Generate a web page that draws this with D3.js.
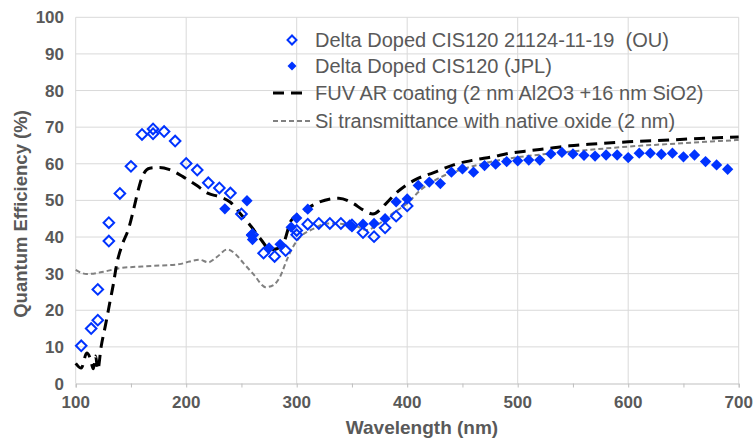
<!DOCTYPE html>
<html>
<head>
<meta charset="utf-8">
<script src="https://cdn.jsdelivr.net/npm/d3@7"></script>
<style>
  body { margin: 0; background: #fff; }
  svg text { font-family: "Liberation Sans", Arial, sans-serif; fill: #595959; white-space: pre; }
</style>
</head>
<body>
<svg id="chart" width="755" height="443"></svg>
<script>
// ── Data ──────────────────────────────────────────────────────────────────
const ouData = [
  [105, 10.3], [114, 15], [120, 17.3], [120, 25.7], [130, 38.9], [130, 43.9],
  [140, 51.9], [150, 59.3], [160, 68], [170, 68.2], [170, 69.5], [180, 68.8],
  [190, 66.2], [200, 60.1], [210, 58.3], [220, 54.8], [230, 53.4], [240, 52],
  [250, 46.3], [260, 40.6], [270, 35.6], [280, 34.7], [290, 36.3], [300, 40.6],
  [300, 41.8], [310, 43.5], [320, 43.7], [330, 43.7], [340, 43.7], [350, 43.3],
  [360, 41.2], [370, 40.1], [380, 42.5], [390, 45.7], [400, 48.5]
];

const jplData = [
  [235, 47.7], [255, 49.9], [259, 40.5], [260, 39.3], [275, 37], [285, 38],
  [295, 42.7], [300, 45.2], [310, 47.6], [348, 43.3], [350, 42.8], [360, 43.5],
  [370, 43.7], [380, 45], [390, 49.6], [400, 50.4], [410, 54.1], [420, 55],
  [430, 54.6], [440, 57.7], [450, 58.6], [460, 57.7], [470, 59.5], [480, 59.9],
  [490, 60.6], [500, 60.8], [510, 61], [520, 61], [530, 62.7], [540, 63.1],
  [550, 62.7], [560, 62.3], [570, 62.1], [580, 62.4], [590, 62.4], [600, 61.7],
  [610, 62.9], [620, 62.9], [630, 62.6], [640, 62.9], [650, 61.9], [660, 62.4],
  [670, 60.6], [680, 59.7], [690, 58.5]
];

const fuvData = [
  [100, 5.5], [105, 4.2], [110, 8.3], [113, 7], [116, 4], [118, 7.5], [120, 3.8],
  [123, 10], [127, 16], [131, 22.3], [134, 27], [137, 32.4], [142, 37.8],
  [148, 42.4], [153, 48.3], [157, 53.3], [161, 57], [167, 58.8], [176, 59],
  [185, 58.4], [197, 56.5], [209, 54.2], [220, 51.9], [230, 51], [240, 49.5],
  [250, 46], [259, 42.8], [268, 39.2], [276, 36.5], [282, 36.8], [288, 38.3],
  [295, 44.5], [306, 47], [320, 49.5], [338, 50.6], [351, 49.2], [360, 47.4],
  [369, 46.3], [381, 49.2], [390, 52], [407, 55.6], [424, 57.6], [442, 59.7],
  [460, 61], [477, 61.9], [493, 62.9], [511, 63.6], [529, 64.2], [547, 64.9],
  [564, 65.3], [600, 66], [637, 66.5], [670, 67], [700, 67.3]
];

const siData = [
  [100, 31], [110, 29.9], [125, 30.5], [140, 31.5], [170, 32.1], [194, 32.6],
  [203, 33.3], [212, 33.8], [220, 33.1], [228, 34.6], [237, 36.6], [244, 35.5],
  [252, 32.8], [261, 29.8], [272, 26.3], [279, 26.9], [285, 29.2], [291, 33.7],
  [297, 37.5], [305, 40.5], [315, 42.2], [327, 43.7], [351, 43.3], [363, 41.9],
  [375, 43.7], [387, 46.5], [400, 49.2], [412, 52.8], [430, 56.3], [450, 58.5],
  [475, 60.5], [500, 61.8], [530, 62.8], [565, 63.8], [600, 64.7], [637, 65.4],
  [670, 66], [700, 66.5]
];

const legendLabels = [
  'Delta Doped CIS120 21124-11-19  (OU)',
  'Delta Doped CIS120 (JPL)',
  'FUV AR coating (2 nm Al2O3 +16 nm SiO2)',
  'Si transmittance with native oxide (2 nm)'
];

const xTicks = [100, 200, 300, 400, 500, 600, 700];
const xMinorTicks = d3.range(100, 701, 50);
const yTicks = d3.range(0, 101, 10);

// ── Setup ─────────────────────────────────────────────────────────────────
const blue = '#0033ff';
const svg = d3.select('#chart');
const x = d3.scaleLinear().domain([100, 700]).range([75.7, 738.7]);
const y = d3.scaleLinear().domain([0, 100]).range([383.5, 17.3]);

// grid
svg.append('g').selectAll('line.h')
  .data(yTicks.filter(d => d > 0))
  .join('line')
    .attr('x1', x(100)).attr('x2', x(700))
    .attr('y1', d => y(d)).attr('y2', d => y(d))
    .attr('stroke', '#d9d9d9').attr('stroke-width', 1);

svg.append('g').selectAll('line.v')
  .data(xTicks)
  .join('line')
    .attr('x1', d => x(d)).attr('x2', d => x(d))
    .attr('y1', y(0)).attr('y2', y(100))
    .attr('stroke', '#d9d9d9').attr('stroke-width', 1);

// bottom axis with minor ticks
const xAxis = d3.axisBottom(x).tickValues(xMinorTicks).tickSize(4).tickFormat('');
svg.append('g')
  .attr('transform', `translate(0,${y(0)})`)
  .call(xAxis)
  .call(g => g.selectAll('line, path').attr('stroke', '#bfbfbf'));

svg.append('g').selectAll('text')
  .data(xTicks)
  .join('text')
    .attr('x', d => x(d)).attr('y', 408)
    .attr('text-anchor', 'middle')
    .attr('font-size', 17).attr('font-weight', 'bold')
    .text(d => d);

svg.append('g').selectAll('text')
  .data(yTicks)
  .join('text')
    .attr('x', 64).attr('y', d => y(d) + 6)
    .attr('text-anchor', 'end')
    .attr('font-size', 17).attr('font-weight', 'bold')
    .text(d => d);

// axis titles
svg.append('text')
  .attr('x', 422).attr('y', 434)
  .attr('text-anchor', 'middle')
  .attr('font-size', 19).attr('font-weight', 'bold')
  .text('Wavelength (nm)');

svg.append('text')
  .attr('transform', 'translate(27,214) rotate(-90)')
  .attr('text-anchor', 'middle')
  .attr('font-size', 18.5).attr('font-weight', 'bold')
  .text('Quantum Efficiency (%)');

// ── Lines ─────────────────────────────────────────────────────────────────
const line = d3.line()
  .x(d => x(d[0])).y(d => y(d[1]))
  .curve(d3.curveMonotoneX);

svg.append('path')
  .datum(siData)
  .attr('d', line)
  .attr('fill', 'none').attr('stroke', '#808080')
  .attr('stroke-width', 2).attr('stroke-dasharray', '5,3');

svg.append('path')
  .datum(fuvData)
  .attr('d', line)
  .attr('fill', 'none').attr('stroke', '#000')
  .attr('stroke-width', 3).attr('stroke-dasharray', '11,7');

// ── Markers ───────────────────────────────────────────────────────────────
const diamond = d3.symbol().type(d3.symbolSquare).size(64);
const openDiamond = d3.symbol().type(d3.symbolSquare).size(56);

svg.append('g').selectAll('path')
  .data(jplData)
  .join('path')
    .attr('d', diamond)
    .attr('transform', d => `translate(${x(d[0])},${y(d[1])}) rotate(45)`)
    .attr('fill', blue);

svg.append('g').selectAll('path')
  .data(ouData)
  .join('path')
    .attr('d', openDiamond)
    .attr('transform', d => `translate(${x(d[0])},${y(d[1])}) rotate(45)`)
    .attr('fill', 'none').attr('stroke', blue).attr('stroke-width', 2);

// ── Legend ────────────────────────────────────────────────────────────────
const legend = svg.append('g');
const rowY = [40, 66, 93, 121];
const legendDiamond = d3.symbol().type(d3.symbolSquare).size(40);

legend.append('path')
  .attr('d', legendDiamond)
  .attr('transform', `translate(292,${rowY[0]}) rotate(45)`)
  .attr('fill', '#fff').attr('stroke', blue).attr('stroke-width', 2);
legend.append('path')
  .attr('d', legendDiamond)
  .attr('transform', `translate(292,${rowY[1]}) rotate(45)`)
  .attr('fill', blue);
legend.append('line')
  .attr('x1', 273).attr('x2', 305).attr('y1', rowY[2]).attr('y2', rowY[2])
  .attr('stroke', '#000').attr('stroke-width', 3).attr('stroke-dasharray', '11,7');
legend.append('line')
  .attr('x1', 273).attr('x2', 310).attr('y1', rowY[3]).attr('y2', rowY[3])
  .attr('stroke', '#808080').attr('stroke-width', 2).attr('stroke-dasharray', '5,3');

legend.selectAll('text')
  .data(legendLabels)
  .join('text')
    .attr('x', 315).attr('y', (d, i) => rowY[i] + 7)
    .attr('font-size', 20)
    .text(d => d);
</script>
</body>
</html>
